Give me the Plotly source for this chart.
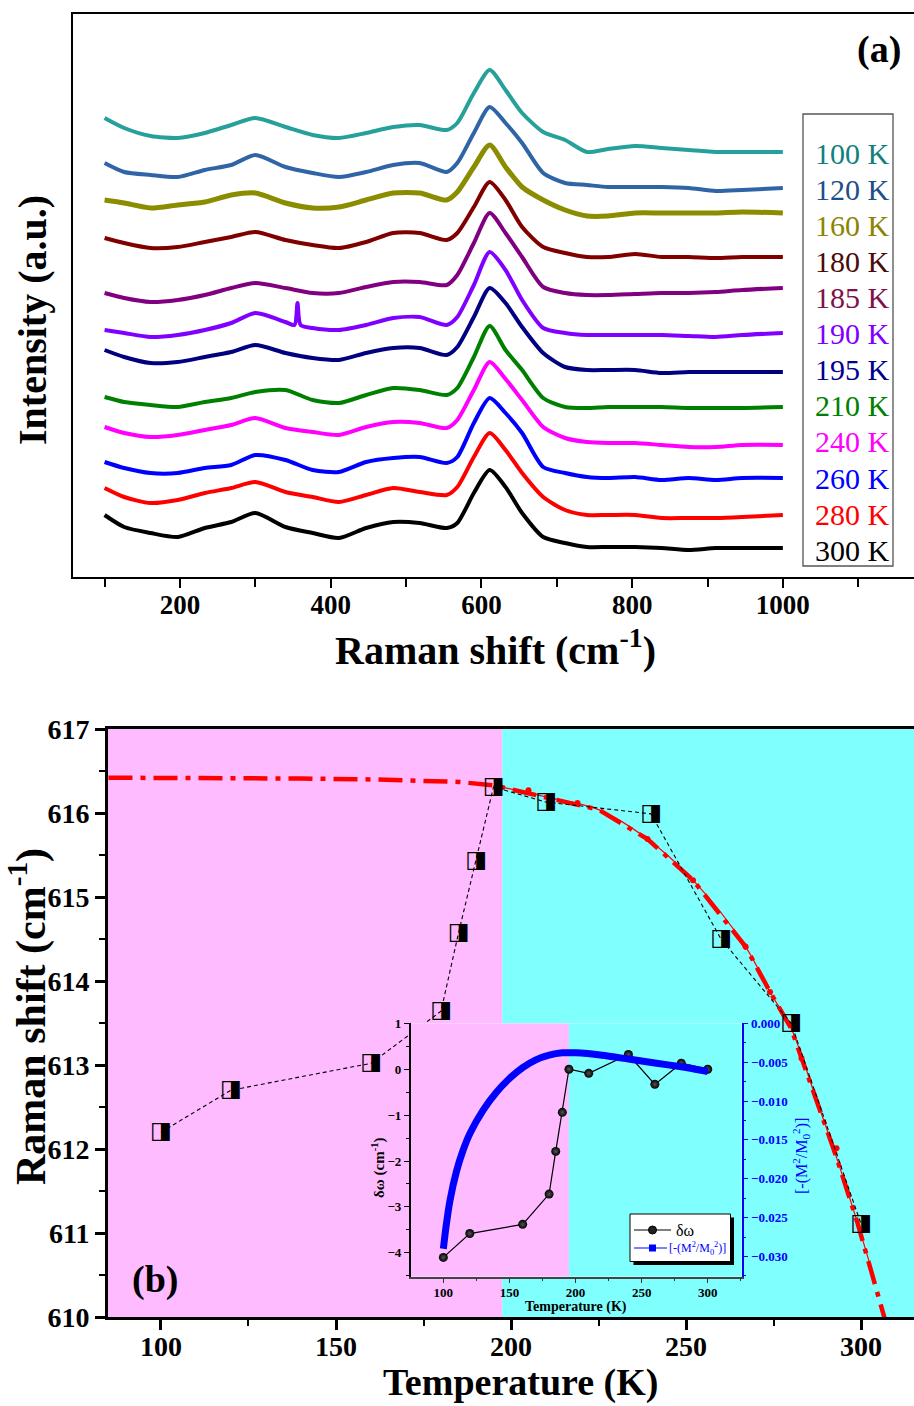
import plotly.graph_objects as go

W, H = 914, 1406
SERIF = "Liberation Serif"

# ---------------- Panel (a): Raman spectra (stacked, arbitrary units) ----------------
RAMAN_SHIFT = [100, 126, 161, 197, 233, 268, 300, 340, 376, 411, 447, 483, 518, 554, 568,
               590, 611, 632, 654, 682, 711, 740, 768, 804, 839, 875, 911, 946, 1000]
RAMAN_SHIFT_190K = [100, 126, 161, 197, 233, 268, 300, 340, 352, 356, 360, 376, 411, 447, 483,
                    518, 554, 568, 590, 611, 632, 654, 682, 711, 740, 768, 804, 839, 875, 911, 946, 1000]

SPECTRA_LABELS = ["100 K", "120 K", "160 K", "180 K", "185 K", "190 K",
                  "195 K", "210 K", "240 K", "260 K", "280 K", "300 K"]
I_100K = [459, 449, 441, 439, 444, 452, 459, 450, 442, 439, 444, 450, 452, 447, 454, 484, 507, 487, 464, 445, 437, 425, 428, 431, 429, 427, 425, 425, 425]
I_120K = [414, 405, 402, 400, 407, 412, 422, 410, 404, 400, 405, 412, 414, 405, 414, 444, 470, 454, 434, 404, 394, 392, 390, 390, 390, 389, 386, 387, 389]
I_160K = [377, 374, 369, 372, 375, 382, 384, 374, 369, 370, 377, 384, 384, 377, 385, 410, 432, 410, 390, 377, 367, 361, 361, 364, 364, 364, 364, 365, 364]
I_180K = [339, 334, 329, 330, 335, 340, 345, 337, 332, 329, 335, 344, 344, 337, 344, 370, 395, 377, 350, 330, 324, 320, 320, 323, 320, 320, 319, 320, 320]
I_185K = [284, 279, 275, 277, 282, 289, 294, 289, 284, 284, 290, 295, 295, 292, 302, 334, 364, 344, 320, 290, 284, 282, 282, 283, 284, 284, 285, 287, 289]
I_190K = [247, 244, 240, 242, 247, 254, 264, 255, 252, 274, 252, 249, 247, 252, 259, 260, 252, 260, 292, 325, 307, 277, 249, 244, 242, 242, 242, 242, 241, 240, 242, 244]
I_195K = [227, 220, 214, 215, 220, 225, 232, 224, 219, 217, 224, 229, 229, 222, 230, 260, 289, 274, 250, 224, 210, 207, 207, 207, 204, 205, 205, 205, 205]
I_210K = [180, 175, 172, 170, 175, 179, 185, 187, 177, 174, 182, 189, 187, 182, 189, 220, 251, 227, 207, 179, 170, 169, 170, 170, 170, 169, 169, 169, 170]
I_240K = [150, 144, 140, 142, 147, 152, 159, 149, 145, 142, 150, 155, 154, 149, 157, 187, 215, 198, 177, 150, 139, 135, 134, 134, 132, 130, 130, 132, 132]
I_260K = [115, 109, 104, 104, 109, 112, 122, 117, 107, 105, 115, 119, 120, 114, 120, 154, 179, 164, 144, 110, 104, 100, 99, 100, 97, 99, 97, 99, 99]
I_280K = [89, 80, 74, 77, 84, 89, 95, 85, 80, 75, 82, 89, 85, 82, 90, 120, 144, 127, 104, 80, 67, 62, 62, 62, 59, 59, 59, 60, 62]
I_300K = [62, 50, 44, 40, 49, 55, 64, 50, 44, 39, 49, 55, 54, 49, 54, 84, 107, 90, 64, 40, 34, 30, 30, 30, 29, 27, 29, 29, 29]

SPECTRA = [I_100K, I_120K, I_160K, I_180K, I_185K, I_190K, I_195K, I_210K, I_240K, I_260K, I_280K, I_300K]
SPECTRA_X = [RAMAN_SHIFT] * 5 + [RAMAN_SHIFT_190K] + [RAMAN_SHIFT] * 6
LINE_COLORS = ["#26A09A", "#2F64A6", "#8C8C00", "#800000", "#800080", "#8000FF",
               "#000080", "#008000", "#FF00FF", "#0000FF", "#FF0000", "#000000"]
LINE_WIDTHS = [4, 4, 5, 4, 4, 4, 4, 4, 4, 4, 4, 4]
LABEL_COLORS = ["#12807E", "#1F4E8C", "#8C8400", "#4A0A0A", "#80104A", "#8000FF",
                "#000090", "#008000", "#FF00FF", "#0000FF", "#FF0000", "#000000"]

# ---------------- Panel (b): peak position vs temperature ----------------
TEMPS = [100, 120, 160, 180, 185, 190, 195, 210, 240, 260, 280, 300]
PEAK_POS = [612.20, 612.70, 613.02, 613.64, 614.57, 615.43, 616.31, 616.13, 615.99, 614.50, 613.50, 611.11]

FIT_T = [85, 100, 120, 140, 160, 175, 185, 195, 210, 225, 239, 252, 267, 274, 280, 287, 293, 299, 304, 308]
FIT_W = [616.42, 616.42, 616.42, 616.41, 616.40, 616.39, 616.37, 616.33, 616.19, 616.04, 615.69,
         615.20, 614.41, 613.87, 613.44, 612.62, 611.90, 611.12, 610.42, 609.80]
FIT_DOT_T = [205, 219, 239, 252, 267, 274, 283, 293]
FIT_DOT_W = [616.27, 616.12, 615.69, 615.20, 614.41, 613.87, 613.08, 612.01]

BOUNDARY_MAIN = 197.5   # pink / cyan transition (main panel)
BOUNDARY_INSET = 195.0  # pink / cyan transition (inset)

# ---------------- Inset ----------------
DELTA_W = [-4.10, -3.58, -3.38, -2.72, -1.79, -0.94, 0.00, -0.09, 0.32, -0.33, 0.13, 0.00]
M_T = [100, 102, 105, 110, 115, 120, 130, 140, 150, 160, 170, 180, 190, 200, 220, 240, 260, 280, 300]
M_RATIO = [-0.0290, -0.0262, -0.0228, -0.0190, -0.0163, -0.0142, -0.0112, -0.0089, -0.0071, -0.0057,
           -0.0047, -0.0041, -0.0038, -0.0038, -0.0041, -0.0046, -0.0051, -0.0056, -0.0062]

PINK = "#FFBBFF"
CYAN = "#80FFFF"

X1_RANGE = [58.1, 1174]
Y1_RANGE = [0, 563]
X2_RANGE = [84.86, 315.14]
Y2_RANGE = [610, 617]
X3_RANGE = [75.3, 325.7]
Y3_RANGE = [-4.52, 1.0]
Y4_RANGE = [-0.0326, 0.0]


def fx(px):
    return px / W


def fy(py):
    return 1 - py / H


fig = go.Figure()

# Panel (a) spectra
for xs, ys, col, lw, name in zip(SPECTRA_X, SPECTRA, LINE_COLORS, LINE_WIDTHS, SPECTRA_LABELS):
    fig.add_trace(go.Scatter(x=xs, y=ys, mode="lines", name=name,
                             line=dict(color=col, width=lw, shape="spline", smoothing=0.7),
                             xaxis="x", yaxis="y", hoverinfo="skip"))

# Panel (b)
fig.add_trace(go.Scatter(x=FIT_T, y=FIT_W, mode="lines",
                         line=dict(color="#FF0000", width=4.5, dash="24px,8px,5px,8px"),
                         xaxis="x2", yaxis="y2"))
thin_t = [t for t in FIT_T if 195 <= t <= 304]
thin_w = [w for t, w in zip(FIT_T, FIT_W) if 195 <= t <= 304]
fig.add_trace(go.Scatter(x=thin_t, y=thin_w, mode="lines",
                         line=dict(color="#FF0000", width=1.2, shape="spline"),
                         xaxis="x2", yaxis="y2"))
fig.add_trace(go.Scatter(x=FIT_DOT_T, y=FIT_DOT_W, mode="markers",
                         marker=dict(color="#FF0000", size=6),
                         xaxis="x2", yaxis="y2"))
fig.add_trace(go.Scatter(x=TEMPS, y=PEAK_POS, mode="lines",
                         line=dict(color="black", width=1.1, dash="4px,3px"),
                         xaxis="x2", yaxis="y2"))
fig.add_trace(go.Scatter(x=TEMPS, y=PEAK_POS, mode="text", text=["\u25E8"] * len(TEMPS),
                         textposition="middle center",
                         textfont=dict(family="DejaVu Sans", size=23, color="black"),
                         xaxis="x2", yaxis="y2"))

# Inset
fig.add_trace(go.Scatter(x=M_T, y=M_RATIO, mode="lines",
                         line=dict(color="#0000FF", width=7, shape="spline", smoothing=0.6),
                         xaxis="x3", yaxis="y4"))
fig.add_trace(go.Scatter(x=TEMPS, y=DELTA_W, mode="lines+markers",
                         line=dict(color="black", width=1.2),
                         marker=dict(color="#000000", size=9,
                                     gradient=dict(type="radial", color="#555555")),
                         xaxis="x3", yaxis="y3"))

tick_a = dict(family=SERIF, size=27, color="black", weight="bold")
tick_b = dict(family=SERIF, size=28, color="black", weight="bold")
tick_small = dict(family=SERIF, size=13, color="black", weight="bold")

fig.update_layout(
    width=W, height=H, margin=dict(l=0, r=0, t=0, b=0, pad=0), autosize=False,
    paper_bgcolor="white", plot_bgcolor="white", showlegend=False,
    xaxis=dict(domain=[fx(73), 1], anchor="y", range=X1_RANGE, tickmode="linear", tick0=0, dtick=200,
               ticks="outside", ticklen=9, tickwidth=2, tickcolor="black", ticklabelstandoff=-6,
               minor=dict(dtick=100, tick0=0, ticks="outside", ticklen=8, tickwidth=2, tickcolor="black"),
               showline=True, linewidth=2, linecolor="black", mirror=True, automargin=False,
               showgrid=False, zeroline=False, tickfont=tick_a),
    yaxis=dict(domain=[fy(577), fy(14)], anchor="x", range=Y1_RANGE, showticklabels=False, ticks="",
               showline=True, linewidth=2, linecolor="black", showgrid=False, zeroline=False,
               automargin=False),
    xaxis2=dict(domain=[fx(108), 1], anchor="y2", range=X2_RANGE, tickmode="linear", tick0=0, dtick=50,
                ticks="outside", ticklen=10, tickwidth=2.5, tickcolor="black", ticklabelstandoff=-8,
                minor=dict(dtick=25, tick0=0, ticks="outside", ticklen=6, tickwidth=2, tickcolor="black"),
                showline=True, linewidth=3, linecolor="black", mirror=True, automargin=False,
                showgrid=False, zeroline=False, tickfont=tick_b),
    yaxis2=dict(domain=[fy(1317), fy(729)], anchor="x2", range=Y2_RANGE, tickmode="linear", tick0=0, dtick=1,
                ticks="outside", ticklen=10, tickwidth=2.5, tickcolor="black",
                minor=dict(dtick=0.5, tick0=0, ticks="outside", ticklen=6, tickwidth=2, tickcolor="black"),
                showline=True, linewidth=3, linecolor="black", automargin=False,
                showgrid=False, zeroline=False, tickfont=tick_b),
    xaxis3=dict(domain=[fx(410.7), fx(741.7)], anchor="y3", range=X3_RANGE, tickmode="linear", tick0=0, dtick=50,
                ticks="outside", ticklen=5, tickwidth=1, tickcolor="#333", ticklabelstandoff=-2,
                minor=dict(dtick=25, tick0=0, ticks="outside", ticklen=3, tickwidth=1, tickcolor="#333"),
                showline=True, linewidth=1.5, linecolor="#444", automargin=False,
                showgrid=False, zeroline=False, tickfont=tick_small),
    yaxis3=dict(domain=[fy(1276.7), fy(1023.3)], anchor="x3", range=Y3_RANGE, tickmode="linear", tick0=0, dtick=1,
                ticks="outside", ticklen=5, tickwidth=1, tickcolor="black",
                minor=dict(dtick=0.5, tick0=0, ticks="outside", ticklen=3, tickwidth=1, tickcolor="black"),
                showline=True, linewidth=1.5, linecolor="black", automargin=False,
                showgrid=False, zeroline=False, tickfont=tick_small),
    yaxis4=dict(overlaying="y3", side="right", anchor="x3", range=Y4_RANGE, tickmode="linear", tick0=0,
                dtick=0.005, tickformat=".3f",
                ticks="outside", ticklen=5, tickwidth=1, tickcolor="#0000FF",
                minor=dict(dtick=0.0025, tick0=0, ticks="outside", ticklen=3, tickwidth=1, tickcolor="#0000FF"),
                showline=True, linewidth=1.5, linecolor="#0000FF", automargin=False,
                showgrid=False, zeroline=False,
                tickfont=dict(family=SERIF, size=13, color="#0000FF", weight="bold")),
)

shapes = []
# main panel background regions
shapes.append(dict(type="rect", xref="x2", yref="y2", x0=X2_RANGE[0], x1=BOUNDARY_MAIN,
                   y0=Y2_RANGE[0], y1=Y2_RANGE[1], fillcolor=PINK, line=dict(width=0), layer="below"))
shapes.append(dict(type="rect", xref="x2", yref="y2", x0=BOUNDARY_MAIN, x1=X2_RANGE[1],
                   y0=Y2_RANGE[0], y1=Y2_RANGE[1], fillcolor=CYAN, line=dict(width=0), layer="below"))
# inset background regions
shapes.append(dict(type="rect", xref="x3", yref="y3", x0=X3_RANGE[0], x1=BOUNDARY_INSET,
                   y0=Y3_RANGE[0], y1=Y3_RANGE[1], fillcolor=PINK, line=dict(width=0), layer="below"))
shapes.append(dict(type="rect", xref="x3", yref="y3", x0=BOUNDARY_INSET, x1=X3_RANGE[1],
                   y0=Y3_RANGE[0], y1=Y3_RANGE[1], fillcolor=CYAN, line=dict(width=0), layer="below"))
# panel (a) legend box
shapes.append(dict(type="rect", xref="paper", yref="paper", x0=fx(803), x1=fx(893), y0=fy(566), y1=fy(114),
                   line=dict(color="#555", width=1.3), fillcolor="rgba(0,0,0,0)", layer="above"))
# inset legend: shadow + box
shapes.append(dict(type="rect", xref="paper", yref="paper", x0=fx(633.5), x1=fx(734), y0=fy(1265), y1=fy(1217.5),
                   line=dict(width=0), fillcolor="black", layer="above"))
shapes.append(dict(type="rect", xref="paper", yref="paper", x0=fx(630), x1=fx(730.5), y0=fy(1261.5), y1=fy(1214),
                   line=dict(color="black", width=1), fillcolor="white", layer="above"))
shapes.append(dict(type="line", xref="paper", yref="paper", x0=fx(634), x1=fx(671), y0=fy(1230), y1=fy(1230),
                   line=dict(color="black", width=1.2), layer="above"))
shapes.append(dict(type="circle", xref="paper", yref="paper", x0=fx(648.5), x1=fx(656.5), y0=fy(1234), y1=fy(1226),
                   line=dict(color="black", width=1), fillcolor="#222", layer="above"))
shapes.append(dict(type="line", xref="paper", yref="paper", x0=fx(634), x1=fx(667), y0=fy(1248), y1=fy(1248),
                   line=dict(color="#0000FF", width=1.2), layer="above"))
shapes.append(dict(type="rect", xref="paper", yref="paper", x0=fx(649), x1=fx(656), y0=fy(1251.5), y1=fy(1244.5),
                   line=dict(width=0), fillcolor="#0000FF", layer="above"))

annotations = []
# Panel (a) legend labels
for i, (lab, col) in enumerate(zip(SPECTRA_LABELS, LABEL_COLORS)):
    annotations.append(dict(xref="paper", yref="paper", x=fx(892), y=fy(154 + 36 * i), text=lab,
                            showarrow=False, xanchor="right", yanchor="middle",
                            font=dict(family=SERIF, size=30, color=col)))
annotations += [
    dict(xref="paper", yref="paper", x=fx(879), y=fy(50), text="<b>(a)</b>", showarrow=False,
         xanchor="center", yanchor="middle", font=dict(family=SERIF, size=38, color="black")),
    dict(xref="paper", yref="paper", x=fx(155), y=fy(1279), text="<b>(b)</b>", showarrow=False,
         xanchor="center", yanchor="middle", font=dict(family=SERIF, size=38, color="black")),
    dict(xref="paper", yref="paper", x=fx(495), y=fy(647), text="<b>Raman shift (cm<sup>-1</sup>)</b>",
         showarrow=False, xanchor="center", yanchor="middle", font=dict(family=SERIF, size=40, color="black")),
    dict(xref="paper", yref="paper", x=fx(32), y=fy(320), text="<b>Intensity (a.u.)</b>", textangle=-90,
         showarrow=False, xanchor="center", yanchor="middle", font=dict(family=SERIF, size=40, color="black")),
    dict(xref="paper", yref="paper", x=fx(520), y=0, text="<b>Temperature (K)</b>",
         showarrow=False, xanchor="center", yanchor="bottom", font=dict(family=SERIF, size=38, color="black")),
    dict(xref="paper", yref="paper", x=fx(28), y=fy(1017), text="<b>Raman shift (cm<sup>-1</sup>)</b>",
         textangle=-90, showarrow=False, xanchor="center", yanchor="middle",
         font=dict(family=SERIF, size=42, color="black")),
    dict(xref="paper", yref="paper", x=fx(576), y=fy(1307), text="<b>Temperature (K)</b>",
         showarrow=False, xanchor="center", yanchor="middle", font=dict(family=SERIF, size=14, color="black")),
    dict(xref="paper", yref="paper", x=fx(378), y=fy(1168), text="<b>\u03b4\u03c9 (cm<sup>-1</sup>)</b>",
         textangle=-90, showarrow=False, xanchor="center", yanchor="middle",
         font=dict(family=SERIF, size=15, color="black")),
    dict(xref="paper", yref="paper", x=fx(801), y=fy(1156),
         text="[-(M<sup>2</sup>/M<sub>0</sub><sup>2</sup>)]",
         textangle=-90, showarrow=False, xanchor="center", yanchor="middle",
         font=dict(family=SERIF, size=16, color="#0000FF")),
    dict(xref="paper", yref="paper", x=fx(674), y=fy(1230), text="\u03b4\u03c9",
         showarrow=False, xanchor="left", yanchor="middle", font=dict(family=SERIF, size=16, color="black")),
    dict(xref="paper", yref="paper", x=fx(667), y=fy(1248),
         text="[-(M<sup>2</sup>/M<sub>0</sub><sup>2</sup>)]",
         showarrow=False, xanchor="left", yanchor="middle", font=dict(family=SERIF, size=12, color="#0000FF")),
]

fig.update_layout(shapes=shapes, annotations=annotations)
fig.write_html("out.html")
